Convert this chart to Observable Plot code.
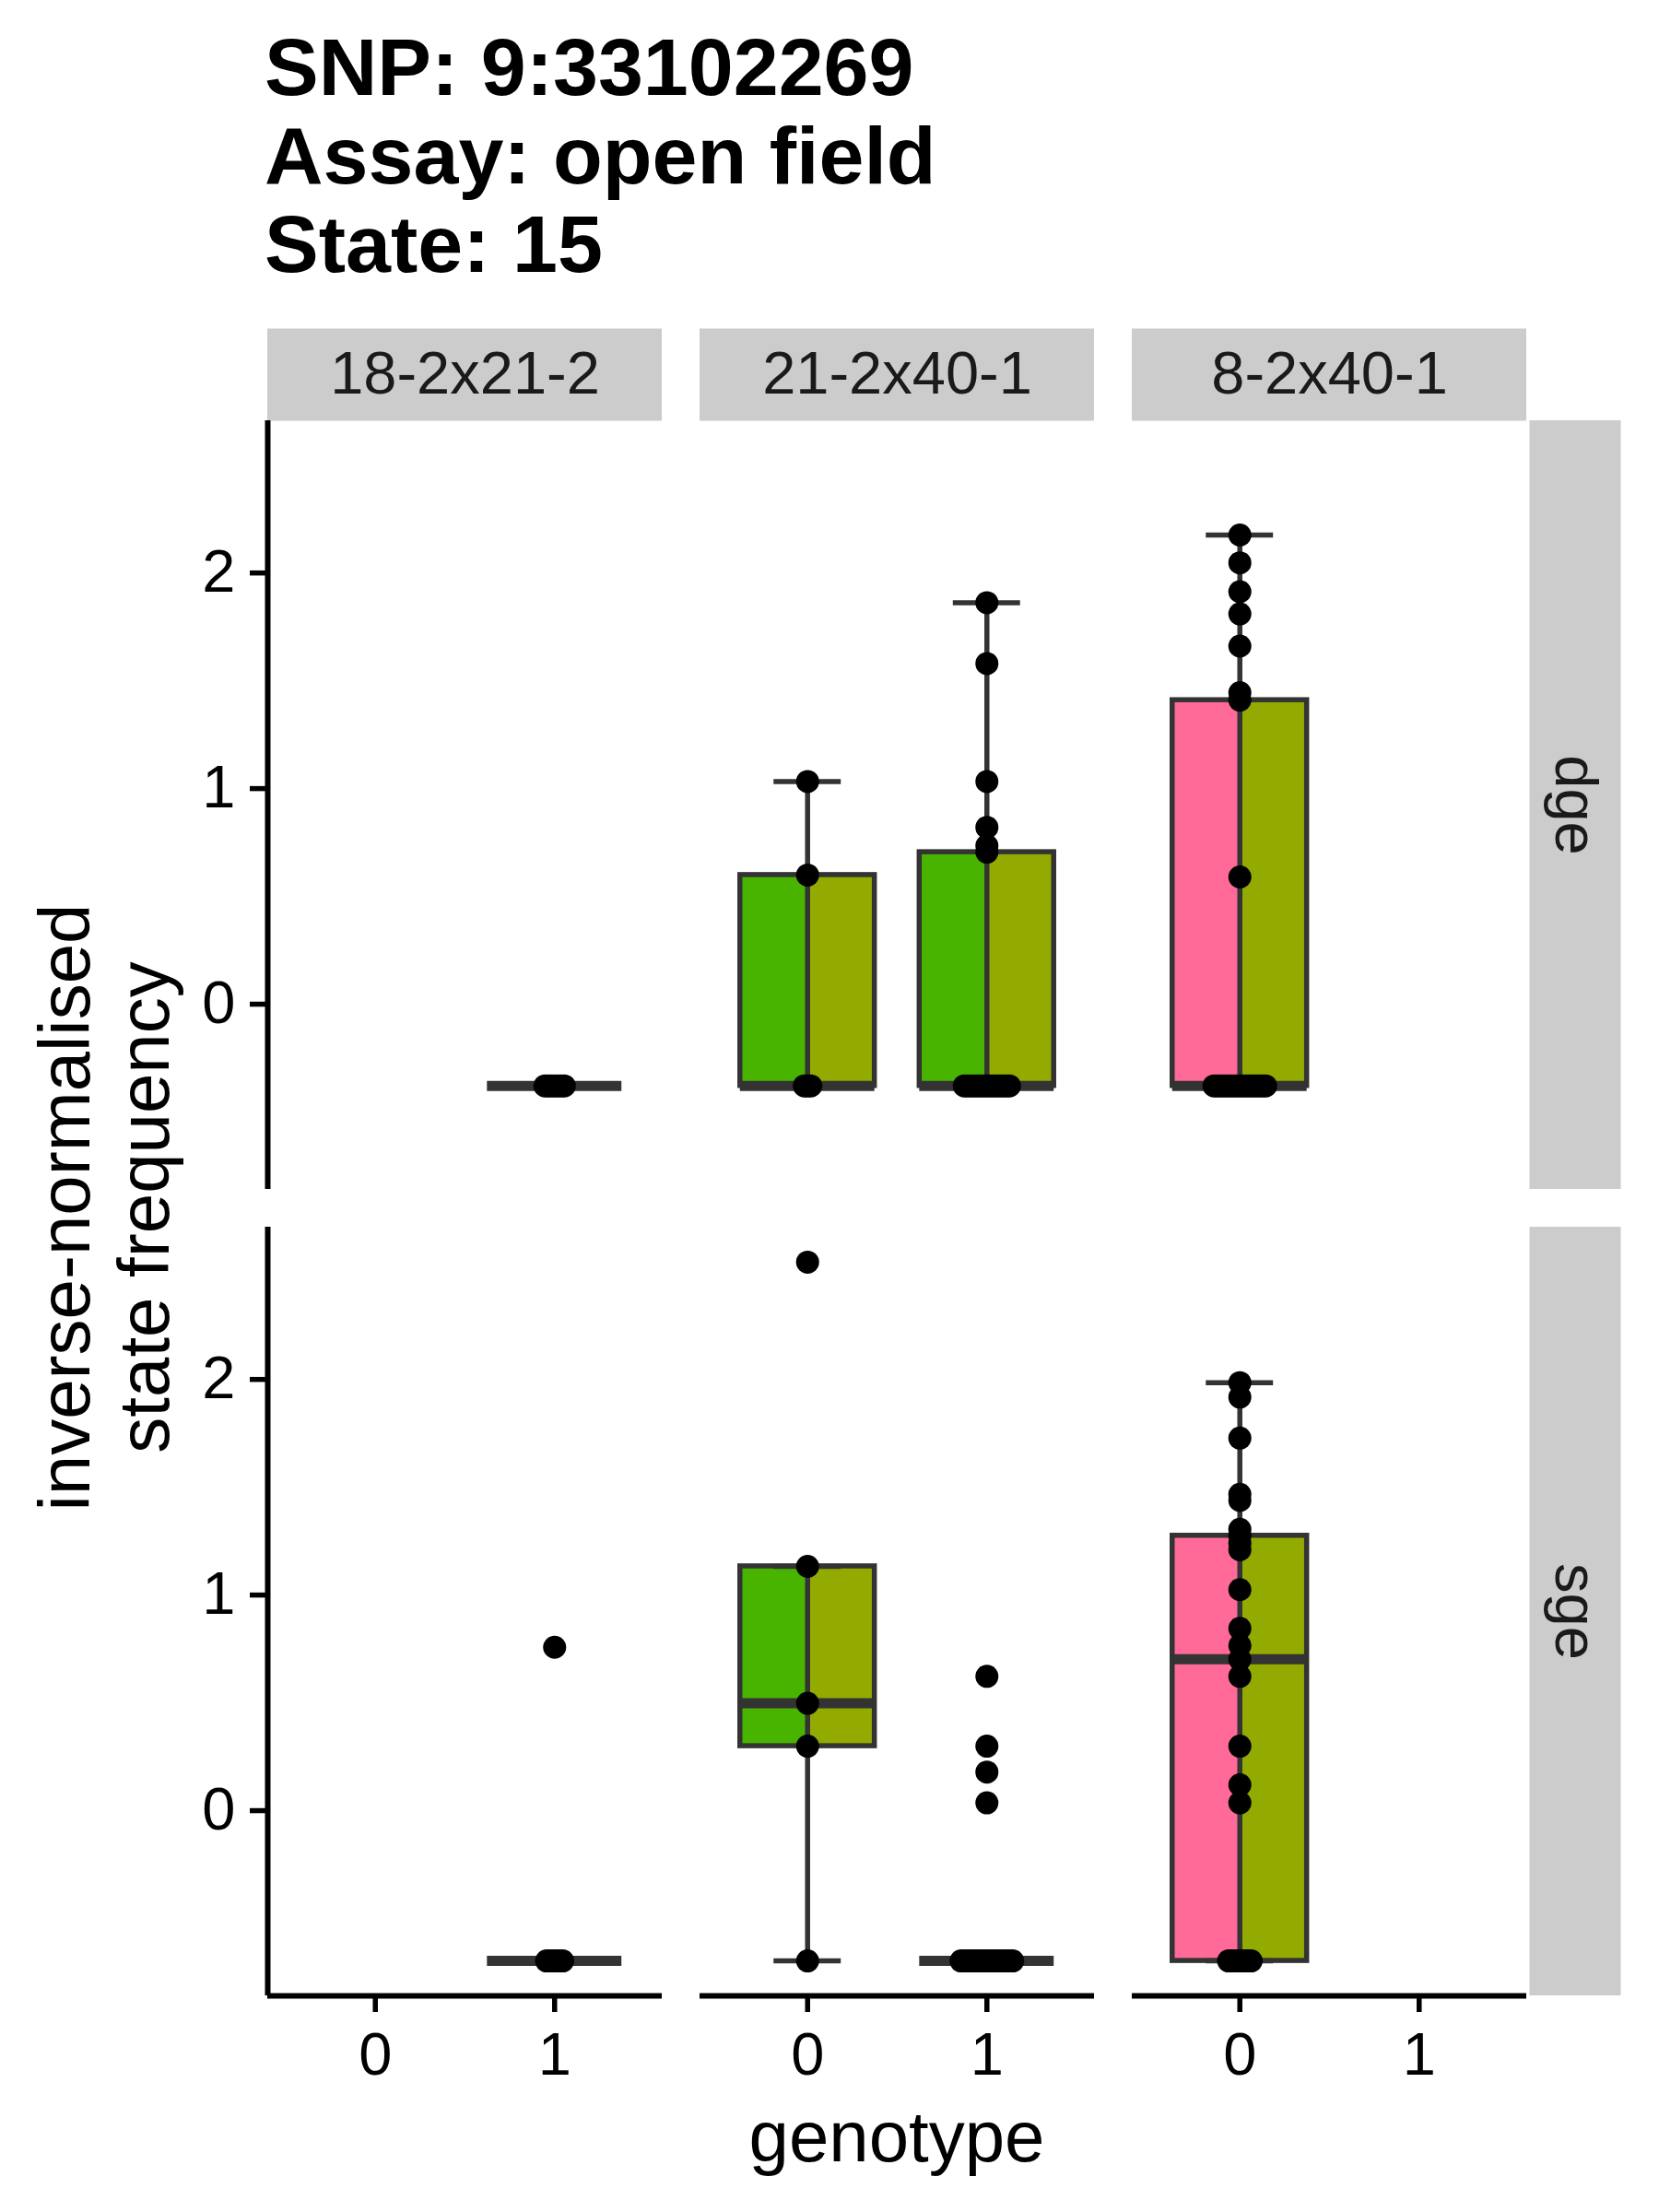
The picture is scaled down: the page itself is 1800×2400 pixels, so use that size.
<!DOCTYPE html>
<html>
<head>
<meta charset="utf-8">
<script src="https://cdn.jsdelivr.net/npm/d3@7"></script>
<script src="https://cdn.jsdelivr.net/npm/@observablehq/plot@0.6"></script>
<style>
  body { margin: 0; background: #fff; font-family: "Liberation Sans", Arial, Helvetica, sans-serif; }
  #wrap { position: relative; width: 1800px; height: 2400px; background: #fff; }
  #title { position: absolute; left: 287px; top: 25px; font-size: 88px; font-weight: bold; line-height: 96px; color: #000; white-space: nowrap; }
  #chart { position: absolute; left: 0; top: 330px; }
  #ytitle { position: absolute; left: -337px; top: 1224px; width: 900px; height: 172px; font-size: 78px; line-height: 86px; text-align: center; color: #000; transform: rotate(-90deg); white-space: nowrap; }
  #xtitle { position: absolute; left: 573px; top: 2274px; width: 800px; font-size: 78px; line-height: 88px; text-align: center; color: #000; white-space: nowrap; }
</style>
</head>
<body>
<div id="wrap">
  <div id="title">SNP: 9:33102269<br>Assay: open field<br>State: 15</div>
  <div id="chart"></div>
  <div id="ytitle">inverse-normalised<br>state frequency</div>
  <div id="xtitle">genotype</div>
</div>
<script>
// ---- categories ----
const crosses = ["18-2x21-2", "21-2x40-1", "8-2x40-1"];
const traits = ["dge", "sge"];
const genotypes = [0, 1];
const yTicks = [0, 1, 2];

// ---- colours ----
const leftFills = ["#F8766D", "#49B400", "#FF6A98"];
const rightFill = "#93AA00";

// ---- values (inverse-normalised state frequency) ----
const dge_18_2x21_2_g1 = [-0.379, -0.379, -0.379, -0.379, -0.379, -0.379, -0.379];
const sge_18_2x21_2_g1 = [-0.697, -0.697, -0.697, -0.697, -0.697, -0.697, 0.758];

const dge_21_2x40_1_g0 = [-0.379, -0.379, -0.379, 0.599, 1.033];
const sge_21_2x40_1_g0 = [-0.697, 0.299, 0.498, 1.133, 2.544];

const dge_21_2x40_1_g1 = [-0.379, -0.379, -0.379, -0.379, -0.379, -0.379, -0.379, -0.379,
  -0.379, -0.379, -0.379, -0.379, -0.379, -0.379, -0.379,
  0.705, 0.735, 0.820, 1.033, 1.580, 1.862];
const sge_21_2x40_1_g1 = [-0.697, -0.697, -0.697, -0.697, -0.697, -0.697, -0.697, -0.697,
  -0.697, -0.697, -0.697, -0.697, -0.697, -0.697, -0.697, -0.697, -0.697,
  0.036, 0.179, 0.299, 0.623];

const dge_8_2x40_1_g0 = [-0.379, -0.379, -0.379, -0.379, -0.379, -0.379, -0.379, -0.379,
  -0.379, -0.379, -0.379, -0.379, -0.379, -0.379, -0.379, -0.379, -0.379,
  0.590, 1.410, 1.445, 1.661, 1.810, 1.913, 2.047, 2.176];
const sge_8_2x40_1_g0 = [-0.697, -0.697, -0.697, -0.697, -0.697, -0.697, -0.697, -0.697,
  0.036, 0.120, 0.299, 0.623, 0.702, 0.766, 0.845, 1.025, 1.210, 1.240, 1.275, 1.305,
  1.439, 1.467, 1.728, 1.918, 1.985];

const groups = [
  {cross: crosses[0], trait: traits[0], genotype: 1, values: dge_18_2x21_2_g1},
  {cross: crosses[0], trait: traits[1], genotype: 1, values: sge_18_2x21_2_g1},
  {cross: crosses[1], trait: traits[0], genotype: 0, values: dge_21_2x40_1_g0},
  {cross: crosses[1], trait: traits[1], genotype: 0, values: sge_21_2x40_1_g0},
  {cross: crosses[1], trait: traits[0], genotype: 1, values: dge_21_2x40_1_g1},
  {cross: crosses[1], trait: traits[1], genotype: 1, values: sge_21_2x40_1_g1},
  {cross: crosses[2], trait: traits[0], genotype: 0, values: dge_8_2x40_1_g0},
  {cross: crosses[2], trait: traits[1], genotype: 0, values: sge_8_2x40_1_g0}
];

// ---- box statistics (R type-7 quantiles, 1.5 IQR whiskers) ----
const stats = groups.map(g => {
  const v = g.values.slice().sort(d3.ascending);
  const q1 = d3.quantile(v, 0.25), median = d3.quantile(v, 0.5), q3 = d3.quantile(v, 0.75);
  const iqr = q3 - q1;
  const lo = d3.min(v.filter(x => x >= q1 - 1.5 * iqr));
  const hi = d3.max(v.filter(x => x <= q3 + 1.5 * iqr));
  return {cross: g.cross, trait: g.trait, genotype: g.genotype, q1, median, q3, lo, hi,
          leftFill: leftFills[crosses.indexOf(g.cross)], rightFill};
});

// ---- points, tied values spread sideways like a beeswarm ----
const tieStep = 0.018;
const points = groups.flatMap(g => {
  const counts = d3.rollup(g.values, v => v.length, d => d);
  const seen = new Map();
  return g.values.map(value => {
    const k = counts.get(value), i = seen.get(value) ?? 0;
    seen.set(value, i + 1);
    return {cross: g.cross, trait: g.trait, genotype: g.genotype, value, offset: (i - (k - 1) / 2) * tieStep};
  });
});

// ---- scale domains as ggplot would expand them ----
const allValues = groups.flatMap(g => g.values);
const [vmin, vmax] = d3.extent(allValues);
const span = vmax - vmin;
const yDomain = [vmin - 0.05 * span, vmax + 0.05 * span];
const xDomain = [genotypes[0] - 0.6, genotypes[1] + 0.6];

const halfBox = 0.375, halfCap = 0.1875;
const ink = "#333333";

const chart = Plot.plot({
  width: 1800,
  height: 1940,
  marginTop: 125, marginRight: 142, marginBottom: 104, marginLeft: 289,
  facet: {marginTop: 125, marginRight: 142, marginBottom: 104, marginLeft: 289},
  style: {fontFamily: '"Liberation Sans", Arial, Helvetica, sans-serif', fontSize: "65px", background: "white", color: "black", overflow: "visible"},
  fx: {domain: crosses, paddingInner: 0.0872, paddingOuter: 0, axis: null, label: null},
  fy: {domain: traits, paddingInner: 0.0468, paddingOuter: 0, axis: null, label: null},
  x: {domain: xDomain, label: null},
  y: {domain: yDomain, label: null},
  color: {type: "identity"},
  marks: [
    // strips
    Plot.ruleY([yDomain[1]], {stroke: "#CCCCCC", strokeWidth: 100, dy: -50, facetAnchor: "top"}),
    Plot.ruleX([xDomain[1]], {stroke: "#CCCCCC", strokeWidth: 99, dx: 52.5, facetAnchor: "right"}),
    Plot.text(crosses, {fx: d => d, text: d => d, frameAnchor: "top", dy: -50, lineAnchor: "middle", textAnchor: "middle", fontSize: 65, fill: "#1a1a1a", facetAnchor: "top"}),
    Plot.text(traits, {fy: d => d, text: d => d, frameAnchor: "right", dx: 52.5, rotate: 90, lineAnchor: "middle", textAnchor: "middle", fontSize: 65, fill: "#1a1a1a", facetAnchor: "right"}),
    // boxes: two-coloured halves
    Plot.rect(stats, {fx: "cross", fy: "trait", x1: d => d.genotype - halfBox, x2: "genotype", y1: "q1", y2: "q3", fill: "leftFill"}),
    Plot.rect(stats, {fx: "cross", fy: "trait", x1: "genotype", x2: d => d.genotype + halfBox, y1: "q1", y2: "q3", fill: "rightFill"}),
    // whisker line
    Plot.ruleX(stats, {fx: "cross", fy: "trait", x: "genotype", y1: "lo", y2: "hi", stroke: ink, strokeWidth: 5.5}),
    // whisker caps
    Plot.ruleY(stats, {fx: "cross", fy: "trait", y: "hi", x1: d => d.genotype - halfCap, x2: d => d.genotype + halfCap, stroke: ink, strokeWidth: 5.5}),
    Plot.ruleY(stats, {fx: "cross", fy: "trait", y: "lo", x1: d => d.genotype - halfCap, x2: d => d.genotype + halfCap, stroke: ink, strokeWidth: 5.5}),
    // box outline
    Plot.rect(stats, {fx: "cross", fy: "trait", x1: d => d.genotype - halfBox, x2: d => d.genotype + halfBox, y1: "q1", y2: "q3", fill: "none", stroke: ink, strokeWidth: 5.5}),
    // median
    Plot.ruleY(stats, {fx: "cross", fy: "trait", y: "median", x1: d => d.genotype - halfBox, x2: d => d.genotype + halfBox, stroke: ink, strokeWidth: 11}),
    // axis lines
    Plot.ruleX([xDomain[0]], {stroke: "black", strokeWidth: 6, facetAnchor: "left"}),
    Plot.ruleY([yDomain[0]], {stroke: "black", strokeWidth: 6, facetAnchor: "bottom"}),
    // axes
    Plot.axisY({ticks: yTicks, tickFormat: d => String(d), tickSize: 19, tickPadding: 16, fontSize: 65, strokeWidth: 5.5, label: null, facetAnchor: "left"}),
    Plot.axisX({ticks: genotypes, tickFormat: d => String(d), tickSize: 18, tickPadding: 21, fontSize: 65, strokeWidth: 5.5, label: null, facetAnchor: "bottom"}),
    // points
    Plot.dot(points, {fx: "cross", fy: "trait", x: d => d.genotype + d.offset, y: "value", r: 12.5, fill: "black", stroke: "none"})
  ]
});
document.getElementById("chart").appendChild(chart);
</script>
</body>
</html>
